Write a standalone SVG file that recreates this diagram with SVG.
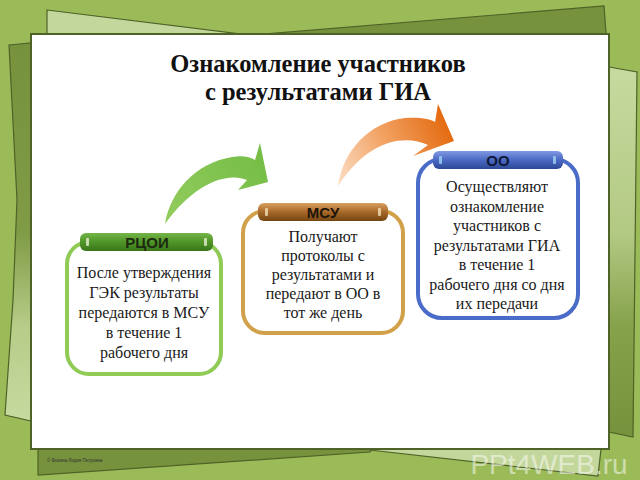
<svg xmlns="http://www.w3.org/2000/svg" width="640" height="480" viewBox="0 0 640 480">
  <defs>
    <linearGradient id="leftPaper" x1="0" y1="0" x2="0" y2="1">
      <stop offset="0" stop-color="#76923c"/>
      <stop offset="0.5" stop-color="#7f9b45"/>
      <stop offset="0.75" stop-color="#b6cc88"/>
      <stop offset="1" stop-color="#c7da9f"/>
    </linearGradient>
    <linearGradient id="rightPaper" x1="0" y1="0" x2="0" y2="1">
      <stop offset="0" stop-color="#c7da9f"/>
      <stop offset="0.45" stop-color="#b2c983"/>
      <stop offset="0.7" stop-color="#86a24b"/>
      <stop offset="1" stop-color="#76923c"/>
    </linearGradient>
    <linearGradient id="gHead" x1="0" y1="0" x2="0" y2="1">
      <stop offset="0" stop-color="#74b548"/>
      <stop offset="0.5" stop-color="#4f9528"/>
      <stop offset="1" stop-color="#3a7519"/>
    </linearGradient>
    <linearGradient id="bHead" x1="0" y1="0" x2="0" y2="1">
      <stop offset="0" stop-color="#d9a061"/>
      <stop offset="0.5" stop-color="#a8692a"/>
      <stop offset="1" stop-color="#744511"/>
    </linearGradient>
    <linearGradient id="uHead" x1="0" y1="0" x2="0" y2="1">
      <stop offset="0" stop-color="#8099e2"/>
      <stop offset="0.5" stop-color="#4b69c4"/>
      <stop offset="1" stop-color="#2d4896"/>
    </linearGradient>
    <linearGradient id="greenArrow" gradientUnits="userSpaceOnUse" x1="165" y1="224" x2="265" y2="150">
      <stop offset="0" stop-color="#93cc5e"/>
      <stop offset="1" stop-color="#74bd45"/>
    </linearGradient>
    <linearGradient id="orangeArrow" gradientUnits="userSpaceOnUse" x1="338" y1="180" x2="452" y2="125">
      <stop offset="0" stop-color="#fbdcc2"/>
      <stop offset="0.45" stop-color="#f2a466"/>
      <stop offset="1" stop-color="#e3670b"/>
    </linearGradient>
    <style>
      .paper { stroke: #4f6228; stroke-width: 1.2; }
      .box { fill: #ffffff; stroke-width: 4; }
      .body { font-family: "Liberation Serif", "Times New Roman", serif; font-size: 16px; fill: #1a1a1a; text-anchor: middle; }
      .head { font-family: "Liberation Sans", Arial, sans-serif; font-size: 15px; font-weight: bold; text-anchor: middle; }
      .title { font-family: "Liberation Serif", "Times New Roman", serif; font-size: 24.5px; font-weight: bold; fill: #111111; text-anchor: middle; }
      .tab { fill: #e8edd0; opacity: 0.8; }
    </style>
  </defs>

  <!-- background -->
  <rect x="0" y="0" width="640" height="480" fill="#9bbb59"/>
  <polygon class="paper" points="47,10 330,45 47,60" fill="#c3d69b"/>
  <polygon class="paper" points="604,6 608,60 180,60 180,41" fill="#76923c"/>
  <polygon class="paper" points="9,45 31,43 31,421 5,415 13,300 17,200" fill="url(#leftPaper)"/>
  <polygon class="paper" points="609,67 637,72 633,437 609,432" fill="url(#rightPaper)"/>
  <polygon class="paper" points="38,440 380,440 370,452 38,475" fill="#76923c"/>
  <polygon class="paper" points="360,440 602,440 598,476 370,450" fill="#c3d69b"/>
  <rect x="31" y="34" width="578" height="415" fill="#ffffff" stroke="#4f6228" stroke-width="2"/>
  <text x="47" y="462" font-family="Liberation Sans, Arial, sans-serif" font-size="4.5" fill="#333333">© Фокина Лидия Петровна</text>
  <text x="549" y="474" font-family="Liberation Sans, Arial, sans-serif" font-size="28" fill="#ffffff" fill-opacity="0.5" text-anchor="middle">PPt4WEB.ru</text>

  <!-- title -->
  <g id="title">
    <text class="title" x="318" y="72">Ознакомление участников</text>
    <text class="title" x="318" y="100">с результатами ГИА</text>
  </g>

  <!-- connectors -->
  <g id="connectors">
    <path d="M165,224 C170,192 195,163 232,157 C243,155 250,157 255,160 L260,143 L268,182 L238,190 L247,180 C228,172 195,182 165,224 Z" fill="url(#greenArrow)"/>
    <path d="M338,186 C343,150 370,122 405,118 C420,117 430,119 435,122 L438,104 L454,141 L413,156 L428,145 C405,135 370,138 338,186 Z" fill="url(#orangeArrow)"/>
  </g>

  <!-- node RCOI -->
  <g id="node-rcoi">
    <rect class="box" x="67" y="242" width="154" height="132" rx="22" stroke="#8fcb55"/>
    <rect x="80" y="233" width="133" height="18" rx="6" fill="url(#gHead)"/>
    <rect class="tab" x="86" y="238" width="3" height="8" rx="1"/>
    <rect class="tab" x="204" y="238" width="3" height="8" rx="1"/>
    <text class="head" x="147" y="248" fill="#1c2a10">РЦОИ</text>
    <text class="body" x="144" y="278">После утверждения</text>
    <text class="body" x="144" y="298">ГЭК результаты</text>
    <text class="body" x="144" y="318">передаются в МСУ</text>
    <text class="body" x="144" y="338">в течение 1</text>
    <text class="body" x="144" y="358">рабочего дня</text>
  </g>

  <!-- node MSU -->
  <g id="node-msu">
    <rect class="box" x="243" y="211" width="160" height="122" rx="22" stroke="#d1a14a"/>
    <rect x="258" y="203" width="130" height="18" rx="6" fill="url(#bHead)"/>
    <rect class="tab" x="265" y="208" width="3" height="8" rx="1" style="fill:#f3dfb8"/>
    <rect class="tab" x="378" y="208" width="3" height="8" rx="1" style="fill:#f3dfb8"/>
    <text class="head" x="323" y="218" fill="#1e1408">МСУ</text>
    <text class="body" x="323" y="242">Получают</text>
    <text class="body" x="323" y="261">протоколы с</text>
    <text class="body" x="323" y="280">результатами и</text>
    <text class="body" x="323" y="299">передают в ОО в</text>
    <text class="body" x="323" y="318">тот же день</text>
  </g>

  <!-- node OO -->
  <g id="node-oo">
    <rect class="box" x="418" y="159" width="160" height="159" rx="24" stroke="#4a6cc8"/>
    <rect x="433" y="151" width="130" height="18" rx="6" fill="url(#uHead)"/>
    <rect class="tab" x="439" y="156" width="3" height="8" rx="1" style="fill:#9fd3f2"/>
    <rect class="tab" x="553" y="156" width="3" height="8" rx="1" style="fill:#9fd3f2"/>
    <text class="head" x="498" y="166" fill="#0d1838">ОО</text>
    <text class="body" x="497" y="192">Осуществляют</text>
    <text class="body" x="497" y="212">ознакомление</text>
    <text class="body" x="497" y="231">участников с</text>
    <text class="body" x="497" y="251">результатами ГИА</text>
    <text class="body" x="497" y="270">в течение 1</text>
    <text class="body" x="497" y="290">рабочего дня со дня</text>
    <text class="body" x="497" y="309">их передачи</text>
  </g>
</svg>
